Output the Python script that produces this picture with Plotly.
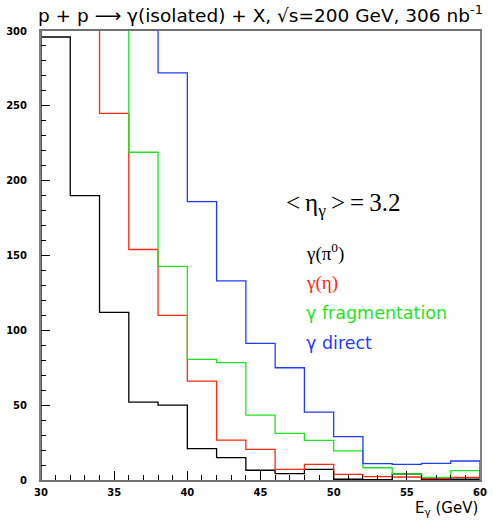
import numpy as np
import plotly.graph_objects as go

# Bin edges (GeV)
bin_edges = [30, 32, 34, 36, 38, 40, 42, 44, 46, 48, 50, 52, 54, 56, 58, 60]

# Counts per bin (bins above 300 are off-scale; estimated)
gamma_pi0 = [296, 190, 112, 52, 50, 21, 15, 6.5, 4.2, 7.1, 0.5, 0.3, 4, 0.5, 0.5]
gamma_eta = [600, 420, 245, 154, 110, 66, 26.7, 20.5, 7.1, 10.5, 3.8, 2.2, 2, 1, 1.8]
gamma_frag = [900, 600, 400, 219, 142.7, 80.6, 78.4, 43.4, 31.2, 26.5, 19.4, 8.2, 4, 1.8, 6.2]
gamma_direct = [1500, 900, 600, 400, 272, 186, 133, 91.3, 75, 45.4, 29, 11, 10.5, 11.1, 12.7]

series_names = ["γ(π<sup>0</sup>)", "γ(η)", "γ fragmentation", "γ direct"]
series_colors = ["#000000", "#ff2a10", "#1ee61e", "#1e3cff"]

fig = go.Figure()


def step_xy(edges, vals):
    xs = [edges[0]] + list(edges) + [edges[-1]]
    ys = [0] + list(vals) + [vals[-1], 0]
    return xs, ys


for vals, name, col in zip([gamma_pi0, gamma_eta, gamma_frag, gamma_direct], series_names, series_colors):
    xs, ys = step_xy(bin_edges, vals)
    fig.add_trace(go.Scatter(x=xs, y=ys, mode="lines", line=dict(shape="hv", color=col, width=1.3),
                             name=name, showlegend=False, hoverinfo="skip"))

# Title
fig.add_annotation(text="p + p \u27F6 γ(isolated) + X, \u221As=200 GeV, 306 nb<sup>-1</sup>",
                   xref="paper", yref="paper", x=0.5, y=1, yanchor="bottom", yshift=3,
                   showarrow=False, font=dict(family="DejaVu Sans", size=18.5, color="black"))

# Axis title
fig.add_annotation(text="E<sub>γ</sub> (GeV)", xref="paper", yref="paper", x=1.0, y=0,
                   xanchor="right", yanchor="top", yshift=-17, showarrow=False,
                   font=dict(family="DejaVu Sans", size=15, color="black"))

# In-plot labels
fig.add_annotation(text="&lt;\u2009η<sub>γ</sub>\u2009&gt;\u2009=\u20093.2", x=46.6, y=184,
                   xanchor="left", yanchor="middle",
                   showarrow=False, font=dict(family="Liberation Serif", size=25, color="black"))
label_y = [152, 131.5, 111.5, 91.5]
for name, col, yy in zip(series_names, series_colors, label_y):
    fam = "Liberation Serif" if "(" in name else "DejaVu Sans"
    size = 19 if "(" in name else 17.5
    fig.add_annotation(text=name, x=48.0, y=yy, xanchor="left", yanchor="middle", showarrow=False,
                       font=dict(family=fam, size=size, color=col))

tick_font = dict(family="DejaVu Sans", size=10, color="black", weight="bold")
fig.update_xaxes(range=[30, 60], tickmode="array", tickvals=[30, 35, 40, 45, 50, 55, 60],
                 ticktext=["30", "35", "40", "45", "50", "55", "60"],
                 ticks="inside", ticklen=9, tickcolor="black", tickwidth=1,
                 minor=dict(tickvals=list(range(30, 61)), ticks="inside", ticklen=5, tickcolor="black"),
                 showline=True, linecolor="#707070", linewidth=2, mirror=True,
                 showgrid=False, zeroline=False, ticklabelstandoff=2,
                 tickfont=tick_font)
fig.update_yaxes(range=[0, 300], tickmode="array", tickvals=[0, 50, 100, 150, 200, 250, 300],
                 ticktext=["0", "50", "100", "150", "200", "250", "300"],
                 ticks="inside", ticklen=9, tickcolor="black", tickwidth=1,
                 minor=dict(tickvals=list(range(0, 301, 10)), ticks="inside", ticklen=5, tickcolor="black"),
                 showline=True, linecolor="#808080", linewidth=2, mirror=True,
                 showgrid=False, zeroline=False, ticklabelstandoff=10,
                 tickfont=tick_font)

fig.update_layout(width=493, height=523, margin=dict(l=40, r=6, t=31, b=43),
                  plot_bgcolor="white", paper_bgcolor="white", showlegend=False)

fig.write_html("out.html", config={"displayModeBar": False},
               post_script="document.body.style.margin='0';document.body.style.overflow='hidden';")
